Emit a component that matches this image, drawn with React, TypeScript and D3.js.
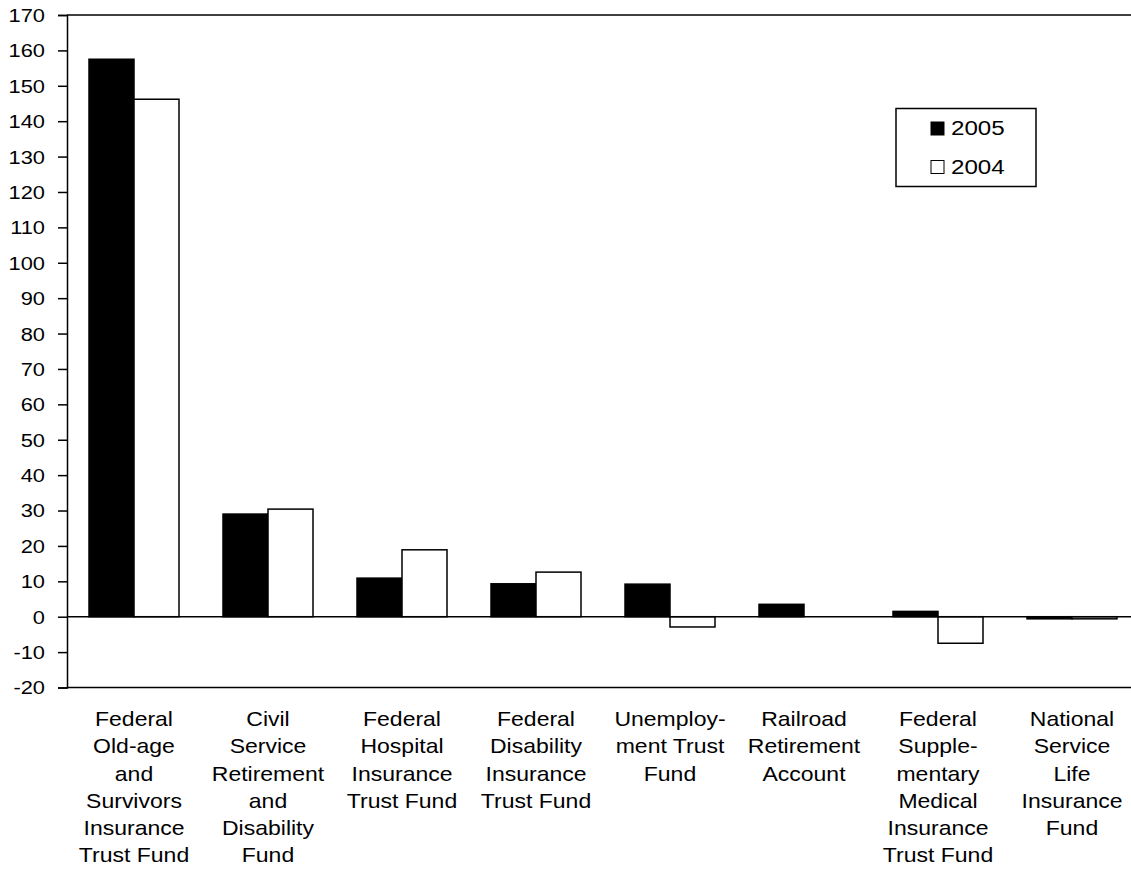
import { useEffect, useRef } from 'react'
import * as d3 from 'd3'

// ─── Data ────────────────────────────────────────────────────────────────────

const categories = [
  'Federal Old-age and Survivors Insurance Trust Fund',
  'Civil Service Retirement and Disability Fund',
  'Federal Hospital Insurance Trust Fund',
  'Federal Disability Insurance Trust Fund',
  'Unemployment Trust Fund',
  'Railroad Retirement Account',
  'Federal Supplementary Medical Insurance Trust Fund',
  'National Service Life Insurance Fund',
]

const categoryLines = [
  ['Federal', 'Old-age', 'and', 'Survivors', 'Insurance', 'Trust Fund'],
  ['Civil', 'Service', 'Retirement', 'and', 'Disability', 'Fund'],
  ['Federal', 'Hospital', 'Insurance', 'Trust Fund'],
  ['Federal', 'Disability', 'Insurance', 'Trust Fund'],
  ['Unemploy-', 'ment Trust', 'Fund'],
  ['Railroad', 'Retirement', 'Account'],
  ['Federal', 'Supple-', 'mentary', 'Medical', 'Insurance', 'Trust Fund'],
  ['National', 'Service', 'Life', 'Insurance', 'Fund'],
]

const values2005 = [157.5, 29.0, 10.9, 9.3, 9.2, 3.5, 1.5, -0.6]
const values2004 = [146.2, 30.4, 18.9, 12.6, -2.9, 0, -7.5, -0.6]

const series = ['2005', '2004']
const seriesFill: Record<string, string> = { '2005': '#000', '2004': '#fff' }

const yTicks = d3.range(-20, 171, 10)

// ─── Chart ───────────────────────────────────────────────────────────────────

const W = 1131
const H = 870
const FONT = '"Liberation Sans", Arial, sans-serif'
const STRETCH = 1.15

export default function App() {
  const ref = useRef<SVGSVGElement>(null)

  useEffect(() => {
    if (!ref.current) return
    const svg = d3.select(ref.current)
    svg.selectAll('*').remove()

    const left = 67
    const top = 15
    const bottom = 687.5
    const bandW = 134
    const right = left + bandW * categories.length

    const x = d3.scaleBand().domain(categories).range([left, right]).padding(0)
    const x1 = d3.scaleBand().domain(series).range([22, 112]).padding(0)
    const y = d3.scaleLinear().domain([-20, 170]).range([bottom, top])

    const stretched = (sel: d3.Selection<SVGTextElement, any, any, any>, tx: number, ty: number) =>
      sel.attr('transform', `translate(${tx},${ty}) scale(${STRETCH},1)`)

    // bars
    const rows = categories.map((c, i) => ({ c, v: [values2005[i], values2004[i]] }))
    rows.forEach((r) => {
      series.forEach((s, si) => {
        const v = r.v[si]
        if (v === 0) return
        svg.append('rect')
          .attr('x', x(r.c)! + x1(s)!)
          .attr('y', y(Math.max(0, v)))
          .attr('width', x1.bandwidth())
          .attr('height', Math.abs(y(v) - y(0)))
          .attr('fill', seriesFill[s])
          .attr('stroke', '#000')
          .attr('stroke-width', 1.5)
      })
    })

    // frame lines
    const line = (x1v: number, y1v: number, x2v: number, y2v: number) =>
      svg.append('line')
        .attr('x1', x1v).attr('y1', y1v).attr('x2', x2v).attr('y2', y2v)
        .attr('stroke', '#000').attr('stroke-width', 1.5)
    line(left, top, right, top)
    line(left, bottom, right, bottom)
    line(left, y(0), right, y(0))

    // y axis
    const yAxis = svg.append('g')
      .attr('transform', `translate(${left},0)`)
      .call(d3.axisLeft(y).tickValues(yTicks).tickSize(9).tickFormat(() => ''))
    yAxis.select('.domain').attr('stroke', '#000').attr('stroke-width', 1.5)
    yAxis.selectAll('line').attr('stroke', '#000').attr('stroke-width', 1.5)

    yTicks.forEach((t) => {
      svg.append('text')
        .attr('text-anchor', 'end')
        .attr('dominant-baseline', 'central')
        .attr('font-family', FONT)
        .attr('font-size', 19)
        .attr('fill', '#000')
        .text(String(t))
        .call(stretched, 45, y(t))
    })

    // category labels
    categories.forEach((c, i) => {
      const cx = x(c)! + x.bandwidth() / 2
      categoryLines[i].forEach((ln, li) => {
        svg.append('text')
          .attr('text-anchor', 'middle')
          .attr('dominant-baseline', 'central')
          .attr('font-family', FONT)
          .attr('font-size', 20)
          .attr('fill', '#000')
          .text(ln)
          .call(stretched, cx, 719 + li * 27.3)
      })
    })

    // legend
    const lg = svg.append('g')
    lg.append('rect')
      .attr('x', 896).attr('y', 108.5).attr('width', 140).attr('height', 78)
      .attr('fill', '#fff').attr('stroke', '#000').attr('stroke-width', 1.5)
    series.forEach((s, i) => {
      const cy = 128.5 + i * 38.5
      lg.append('rect')
        .attr('x', 931).attr('y', cy - 6.5).attr('width', 13).attr('height', 13)
        .attr('fill', seriesFill[s]).attr('stroke', '#000').attr('stroke-width', 1)
      lg.append('text')
        .attr('dominant-baseline', 'central')
        .attr('font-family', FONT)
        .attr('font-size', 21)
        .attr('fill', '#000')
        .text(s)
        .call(stretched, 951, cy)
    })
  }, [])

  return (
    <svg
      ref={ref}
      width={W}
      height={H}
      style={{ position: 'absolute', left: 0, top: 0, background: '#fff', display: 'block' }}
    />
  )
}
